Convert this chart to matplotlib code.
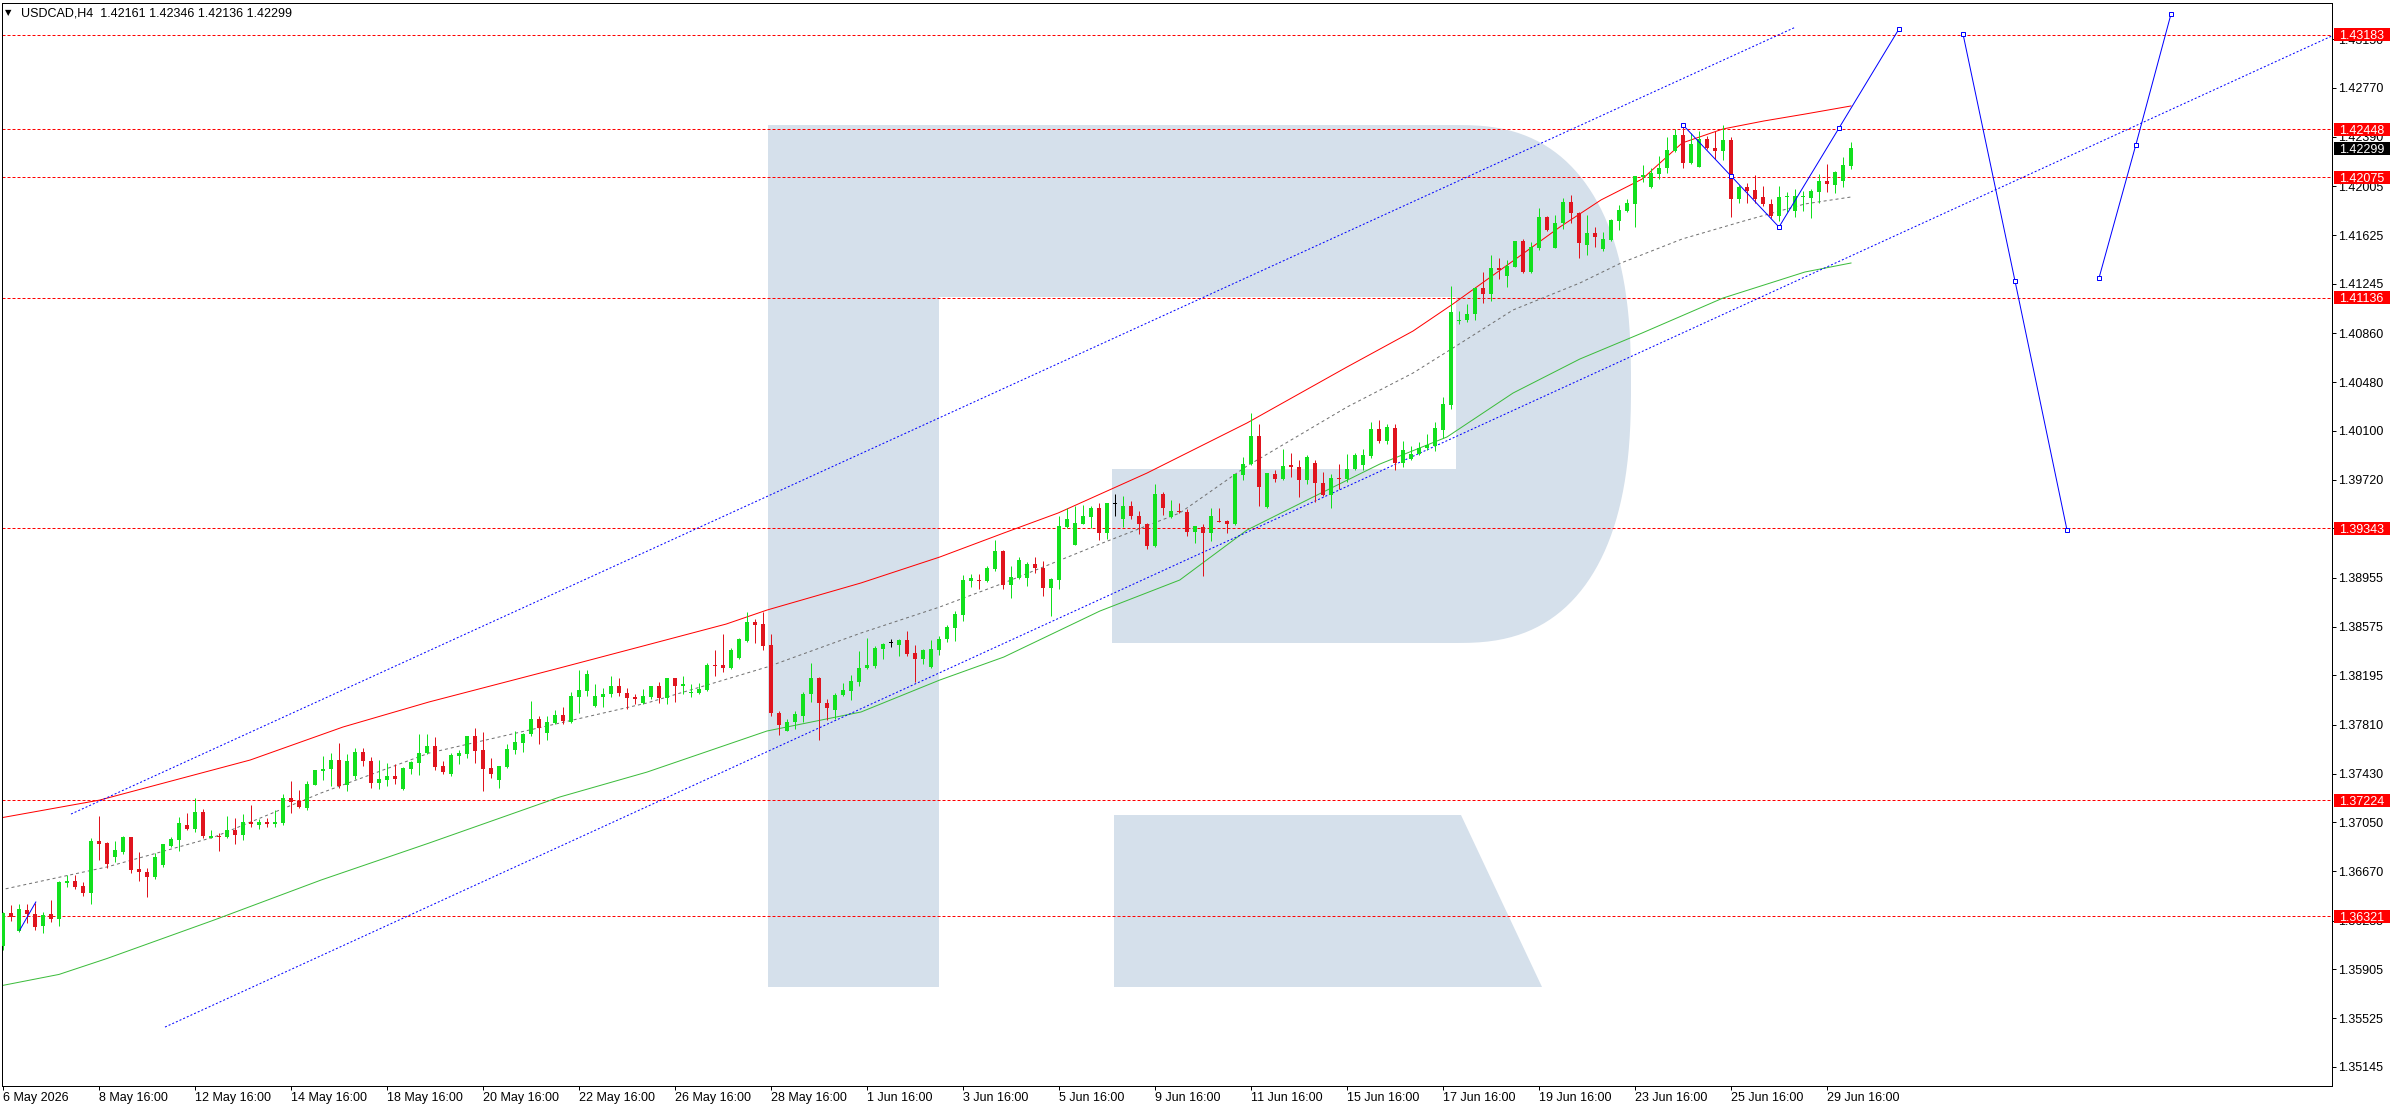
import matplotlib
matplotlib.use("Agg")
import matplotlib.pyplot as plt
import matplotlib.transforms as mtransforms
from matplotlib.patches import Polygon, Rectangle
import numpy as np

plt.rcParams['font.family'] = ['Liberation Sans', 'DejaVu Sans']
plt.rcParams['lines.scale_dashes'] = False

# ---- USDCAD H4 candles (bar 0 = 6 May 16:00) ----
opens = [
    1.36091, 1.36343, 1.36203, 1.36369, 1.36338, 1.36242, 1.36333, 1.36299, 1.36575, 1.36590,
    1.36551, 1.36499, 1.36902, 1.36887, 1.36780, 1.36816, 1.36933, 1.36686, 1.36660, 1.36624,
    1.36715, 1.36863, 1.36910, 1.37032, 1.36998, 1.37131, 1.36928, 1.36941, 1.36933, 1.36988,
    1.36952, 1.37050, 1.37030, 1.37050, 1.37037, 1.37045, 1.37238, 1.37219, 1.37162, 1.37342,
    1.37451, 1.37466, 1.37534, 1.37342, 1.37409, 1.37602, 1.37526, 1.37357, 1.37383, 1.37412,
    1.37310, 1.37466, 1.37513, 1.37589, 1.37643, 1.37487, 1.37425, 1.37568, 1.37583, 1.37721,
    1.37612, 1.37472, 1.37378, 1.37482, 1.37612, 1.37669, 1.37737, 1.37854, 1.37747, 1.37825,
    1.37883, 1.37831, 1.38026, 1.38073, 1.37956, 1.38026, 1.38047, 1.38114, 1.38060, 1.38023,
    1.37982, 1.38023, 1.38109, 1.38018, 1.38172, 1.38112, 1.38057, 1.38057, 1.38081, 1.38270,
    1.38273, 1.38250, 1.38330, 1.38463, 1.38608, 1.38595, 1.38429, 1.37906, 1.37763, 1.37831,
    1.37878, 1.38047, 1.38172, 1.37982, 1.37927, 1.38042, 1.38073, 1.38143, 1.38252, 1.38265,
    1.38400, 1.38445, 1.38432, 1.38468, 1.38369, 1.38320, 1.38260, 1.38393, 1.38476, 1.38562,
    1.38666, 1.38931, 1.38936, 1.38928, 1.39024, 1.39162, 1.38897, 1.38954, 1.38957, 1.39061,
    1.39030, 1.38876, 1.38936, 1.39347, 1.39212, 1.39378, 1.39427, 1.39502, 1.39302, 1.39531,
    1.39411, 1.39518, 1.39440, 1.39375, 1.39201, 1.39604, 1.39427, 1.39479, 1.39471, 1.39310,
    1.39354, 1.39302, 1.39401, 1.39401, 1.39375, 1.39755, 1.39838, 1.40056, 1.39505, 1.39765,
    1.39723, 1.39833, 1.39822, 1.39718, 1.39851, 1.39693, 1.39601, 1.39734, 1.39721, 1.39799,
    1.39830, 1.39903, 1.40111, 1.40020, 1.40119, 1.39848, 1.39879, 1.39916, 1.39968, 1.39981,
    1.40103, 1.40299, 1.40956, 1.40961, 1.41008, 1.41211, 1.41164, 1.41367, 1.41304, 1.41377,
    1.41577, 1.41335, 1.41520, 1.41767, 1.41525, 1.41715, 1.41881, 1.41798, 1.41548, 1.41640,
    1.41515, 1.41587, 1.41737, 1.41815, 1.41870, 1.42076, 1.41999, 1.42104, 1.42143, 1.42279,
    1.42404, 1.42182, 1.42157, 1.42371, 1.42304, 1.42276, 1.42365, 1.41904, 1.41998, 1.41976,
    1.41918, 1.41865, 1.41770, 1.41920, 1.41812, 1.41918, 1.41915, 1.41959, 1.42043, 1.42015,
    1.42048, 1.42161,
]
highs = [
    1.36351, 1.36403, 1.36411, 1.36411, 1.36421, 1.36351, 1.36442, 1.36590, 1.36637, 1.36637,
    1.36582, 1.36928, 1.37097, 1.36897, 1.36902, 1.36941, 1.36938, 1.36816, 1.36697, 1.36811,
    1.36884, 1.36936, 1.37089, 1.37123, 1.37238, 1.37154, 1.36988, 1.36970, 1.37097, 1.37084,
    1.37118, 1.37183, 1.37074, 1.37087, 1.37149, 1.37269, 1.37370, 1.37300, 1.37370, 1.37460,
    1.37565, 1.37589, 1.37669, 1.37581, 1.37628, 1.37628, 1.37560, 1.37534, 1.37511, 1.37505,
    1.37482, 1.37526, 1.37737, 1.37737, 1.37716, 1.37526, 1.37591, 1.37617, 1.37726, 1.37786,
    1.37752, 1.37550, 1.37492, 1.37659, 1.37760, 1.37745, 1.37994, 1.37877, 1.37877, 1.37924,
    1.37948, 1.38065, 1.38234, 1.38234, 1.38125, 1.38099, 1.38192, 1.38172, 1.38099, 1.38047,
    1.38086, 1.38114, 1.38140, 1.38177, 1.38177, 1.38187, 1.38125, 1.38138, 1.38291, 1.38390,
    1.38515, 1.38406, 1.38489, 1.38692, 1.38634, 1.38692, 1.38515, 1.37916, 1.37857, 1.37914,
    1.38068, 1.38289, 1.38182, 1.38008, 1.38057, 1.38133, 1.38195, 1.38385, 1.38484, 1.38426,
    1.38447, 1.38476, 1.38478, 1.38538, 1.38429, 1.38398, 1.38468, 1.38499, 1.38585, 1.38694,
    1.38975, 1.38988, 1.38988, 1.39045, 1.39248, 1.39168, 1.39045, 1.39118, 1.39079, 1.39118,
    1.39087, 1.38957, 1.39435, 1.39495, 1.39516, 1.39521, 1.39518, 1.39536, 1.39539, 1.39609,
    1.39591, 1.39557, 1.39474, 1.39380, 1.39689, 1.39620, 1.39562, 1.39541, 1.39489, 1.39362,
    1.39375, 1.39495, 1.39495, 1.39406, 1.39765, 1.39895, 1.40238, 1.40150, 1.39775, 1.39797,
    1.39955, 1.39929, 1.39869, 1.39908, 1.39869, 1.39778, 1.39765, 1.39838, 1.39916, 1.39931,
    1.39957, 1.40171, 1.40181, 1.40150, 1.40155, 1.40020, 1.39978, 1.40012, 1.40072, 1.40168,
    1.40363, 1.41226, 1.41034, 1.41091, 1.41221, 1.41338, 1.41468, 1.41445, 1.41429, 1.41582,
    1.41595, 1.41572, 1.41837, 1.41772, 1.41777, 1.41910, 1.41936, 1.41806, 1.41779, 1.41687,
    1.41648, 1.41748, 1.41859, 1.41909, 1.42087, 1.42171, 1.42148, 1.42240, 1.42388, 1.42449,
    1.42474, 1.42421, 1.42435, 1.42399, 1.42435, 1.42482, 1.42388, 1.42015, 1.42032, 1.42093,
    1.42009, 1.41904, 1.42009, 1.41959, 1.41982, 1.41968, 1.41987, 1.42098, 1.42176, 1.42121,
    1.42232, 1.42346,
]
lows = [
    1.36057, 1.36281, 1.36195, 1.36265, 1.36213, 1.36187, 1.36273, 1.36247, 1.36546, 1.36533,
    1.36473, 1.36416, 1.36754, 1.36697, 1.36741, 1.36806, 1.36655, 1.36593, 1.36468, 1.36608,
    1.36702, 1.36858, 1.36827, 1.36988, 1.36978, 1.36931, 1.36925, 1.36827, 1.36928, 1.36881,
    1.36913, 1.37012, 1.36998, 1.37014, 1.37012, 1.37030, 1.37123, 1.37162, 1.37147, 1.37338,
    1.37378, 1.37334, 1.37316, 1.37295, 1.37388, 1.37492, 1.37321, 1.37310, 1.37334, 1.37352,
    1.37305, 1.37425, 1.37420, 1.37583, 1.37456, 1.37425, 1.37409, 1.37505, 1.37550, 1.37513,
    1.37295, 1.37394, 1.37318, 1.37477, 1.37586, 1.37599, 1.37726, 1.37661, 1.37693, 1.37820,
    1.37818, 1.37825, 1.37901, 1.38031, 1.37950, 1.37948, 1.38026, 1.38036, 1.37935, 1.37974,
    1.37974, 1.38013, 1.37977, 1.37974, 1.37987, 1.38052, 1.38026, 1.38052, 1.38073, 1.38187,
    1.38218, 1.38245, 1.38325, 1.38458, 1.38447, 1.38390, 1.37875, 1.37727, 1.37761, 1.37776,
    1.37831, 1.37984, 1.37688, 1.37844, 1.37857, 1.38034, 1.38000, 1.38109, 1.38247, 1.38255,
    1.38320, 1.38416, 1.38343, 1.38343, 1.38143, 1.38281, 1.38255, 1.38351, 1.38452, 1.38460,
    1.38616, 1.38884, 1.38871, 1.38923, 1.39009, 1.38866, 1.38796, 1.38949, 1.38889, 1.38993,
    1.38814, 1.38655, 1.38866, 1.39342, 1.39207, 1.39373, 1.39344, 1.39250, 1.39255, 1.39440,
    1.39354, 1.39414, 1.39297, 1.39177, 1.39193, 1.39448, 1.39422, 1.39458, 1.39284, 1.39224,
    1.38972, 1.39245, 1.39388, 1.39302, 1.39370, 1.39718, 1.39830, 1.39518, 1.39500, 1.39705,
    1.39713, 1.39744, 1.39583, 1.39687, 1.39544, 1.39596, 1.39497, 1.39648, 1.39700, 1.39791,
    1.39791, 1.39887, 1.40004, 1.40000, 1.39791, 1.39822, 1.39874, 1.39913, 1.39952, 1.39942,
    1.40046, 1.40267, 1.40930, 1.40948, 1.40966, 1.41096, 1.41112, 1.41286, 1.41221, 1.41372,
    1.41330, 1.41330, 1.41512, 1.41658, 1.41520, 1.41668, 1.41715, 1.41447, 1.41473, 1.41531,
    1.41503, 1.41576, 1.41667, 1.41801, 1.41684, 1.42037, 1.41994, 1.42065, 1.42110, 1.42274,
    1.42148, 1.42176, 1.42152, 1.42293, 1.42218, 1.42210, 1.41768, 1.41876, 1.41876, 1.41876,
    1.41848, 1.41754, 1.41737, 1.41804, 1.41765, 1.41815, 1.41754, 1.41876, 1.41959, 1.41954,
    1.41996, 1.42136,
]
closes = [
    1.36343, 1.36317, 1.36377, 1.36333, 1.36239, 1.36330, 1.36296, 1.36585, 1.36590, 1.36546,
    1.36499, 1.36902, 1.36881, 1.36725, 1.36832, 1.36933, 1.36679, 1.36660, 1.36624, 1.36780,
    1.36879, 1.36920, 1.37045, 1.36998, 1.37131, 1.36941, 1.36941, 1.36936, 1.36988, 1.36952,
    1.37050, 1.37037, 1.37050, 1.37037, 1.37050, 1.37238, 1.37209, 1.37170, 1.37347, 1.37456,
    1.37469, 1.37534, 1.37336, 1.37526, 1.37602, 1.37529, 1.37357, 1.37386, 1.37412, 1.37386,
    1.37472, 1.37518, 1.37594, 1.37643, 1.37482, 1.37440, 1.37576, 1.37594, 1.37721, 1.37607,
    1.37466, 1.37425, 1.37487, 1.37620, 1.37674, 1.37742, 1.37854, 1.37786, 1.37830, 1.37885,
    1.37836, 1.38031, 1.38078, 1.38208, 1.38031, 1.38052, 1.38114, 1.38057, 1.38018, 1.38010,
    1.38031, 1.38109, 1.38018, 1.38172, 1.38112, 1.38125, 1.38062, 1.38086, 1.38273, 1.38265,
    1.38250, 1.38393, 1.38476, 1.38608, 1.38590, 1.38424, 1.37901, 1.37810, 1.37831, 1.37891,
    1.38052, 1.38172, 1.37982, 1.37943, 1.38044, 1.38078, 1.38148, 1.38255, 1.38278, 1.38406,
    1.38442, 1.38445, 1.38473, 1.38361, 1.38320, 1.38390, 1.38403, 1.38481, 1.38569, 1.38673,
    1.38936, 1.38952, 1.38928, 1.39030, 1.39162, 1.38897, 1.38959, 1.39092, 1.39061, 1.39030,
    1.38876, 1.38944, 1.39357, 1.39412, 1.39381, 1.39435, 1.39502, 1.39302, 1.39534, 1.39531,
    1.39518, 1.39435, 1.39375, 1.39201, 1.39604, 1.39497, 1.39479, 1.39466, 1.39310, 1.39359,
    1.39302, 1.39437, 1.39393, 1.39375, 1.39760, 1.39843, 1.40056, 1.39661, 1.39770, 1.39723,
    1.39827, 1.39817, 1.39718, 1.39895, 1.39692, 1.39601, 1.39736, 1.39723, 1.39804, 1.39908,
    1.39908, 1.40111, 1.40020, 1.40129, 1.39848, 1.39947, 1.39921, 1.39968, 1.39986, 1.40119,
    1.40306, 1.41023, 1.40966, 1.41013, 1.41211, 1.41164, 1.41367, 1.41356, 1.41382, 1.41577,
    1.41335, 1.41528, 1.41767, 1.41663, 1.41720, 1.41881, 1.41793, 1.41559, 1.41640, 1.41606,
    1.41592, 1.41743, 1.41820, 1.41876, 1.42082, 1.42090, 1.42110, 1.42148, 1.42287, 1.42404,
    1.42182, 1.42335, 1.42371, 1.42299, 1.42282, 1.42365, 1.41904, 1.41996, 1.41965, 1.41909,
    1.41865, 1.41770, 1.41920, 1.41926, 1.41926, 1.41926, 1.41965, 1.42043, 1.42021, 1.42112,
    1.42171, 1.42299,
]

# time axis labels, one every 12 bars
time_labels = ["6 May 2026", "8 May 16:00", "12 May 16:00", "14 May 16:00", "18 May 16:00",
               "20 May 16:00", "22 May 16:00", "26 May 16:00", "28 May 16:00", "1 Jun 16:00",
               "3 Jun 16:00", "5 Jun 16:00", "9 Jun 16:00", "11 Jun 16:00", "15 Jun 16:00",
               "17 Jun 16:00", "19 Jun 16:00", "23 Jun 16:00", "25 Jun 16:00", "29 Jun 16:00"]
time_label_bars = [0, 12, 24, 36, 48, 60, 72, 84, 96, 108,
                   120, 132, 144, 156, 168, 180, 192, 204, 216, 228]

price_ticks = [1.35145, 1.35525, 1.35905, 1.36285, 1.36670, 1.37050, 1.37430, 1.37810,
               1.38195, 1.38575, 1.38955, 1.39340, 1.39720, 1.40100, 1.40480, 1.40860,
               1.41245, 1.41625, 1.42005, 1.42390, 1.42770, 1.43150]

levels = [1.43183, 1.42448, 1.42075, 1.41136, 1.39343, 1.37224, 1.36321]
last_price = 1.42299

# envelope lines (bar index, price)
upper_x = [-0.4, 12.1, 21.5, 30.9, 42.5, 53.25, 69.6, 80.5, 90.4, 95.5, 107.25, 117.1, 125.1,
           131.9, 143.0, 155.5, 168.0, 176.25, 181.25, 188.75, 194.6, 199.75, 204.9, 209.9,
           215.0, 220.1, 225.25, 231.0]
upper_y = [1.37084, 1.37224, 1.37380, 1.37536, 1.37793, 1.37988, 1.38253, 1.38432, 1.38595,
           1.38704, 1.38915, 1.39117, 1.39304, 1.39460, 1.39771, 1.40161, 1.40597, 1.40877,
           1.41088, 1.41423, 1.41687, 1.41898, 1.42061, 1.42342, 1.42451, 1.42513, 1.42567,
           1.42630]
lower_x = [-0.4, 7.0, 13.0, 26.4, 39.75, 53.25, 69.6, 80.5, 95.5, 107.25, 117.1, 125.1, 137.1,
           147.1, 155.5, 163.75, 172.1, 180.5, 188.75, 197.1, 204.9, 215.0, 225.25, 231.0]
lower_y = [1.35776, 1.35866, 1.35990, 1.36290, 1.36601, 1.36889, 1.37248, 1.37442, 1.37762,
           1.37910, 1.38159, 1.38338, 1.38696, 1.38938, 1.39327, 1.39584, 1.39841, 1.40052,
           1.40394, 1.40659, 1.40862, 1.41134, 1.41337, 1.41407]
mid_x = [-0.4, 13.0, 26.4, 39.75, 53.25, 69.6, 80.5, 95.5, 107.25, 117.1, 125.1, 137.1, 147.1,
         155.5, 168.0, 176.25, 181.25, 188.75, 197.1, 202.25, 209.9, 217.6, 225.25, 231.0]
mid_y = [1.36523, 1.36703, 1.36936, 1.37279, 1.37590, 1.37824, 1.37980, 1.38260, 1.38525,
         1.38728, 1.38915, 1.39218, 1.39460, 1.39826, 1.40285, 1.40550, 1.40745, 1.41041,
         1.41251, 1.41407, 1.41594, 1.41734, 1.41867, 1.41921]

# trend channel (dotted blue)
chan_top_x = [8.5, 224.1]
chan_top_y = [1.37115, 1.43245]
chan_bot_x = [20.25, 291.1]
chan_bot_y = [1.35456, 1.43175]

# forecast path pieces (solid blue)
fc1_x = [210.0, 216.0, 222.0, 229.5, 237.0]
fc1_y = [1.42482, 1.42085, 1.41687, 1.42458, 1.43230]
fc2_x = [245.0, 251.5, 258.0]
fc2_y = [1.43191, 1.41267, 1.39327]
fc3_x = [262.0, 266.6, 271.0]
fc3_y = [1.41290, 1.42326, 1.43346]
old_x = [2.1, 4.1]
old_y = [1.36212, 1.36430]

W, H = 2396, 1110
fig = plt.figure(figsize=(W / 100, H / 100), dpi=100)
fig.patch.set_facecolor('white')
ax = fig.add_axes([2 / W, 24 / H, 2330 / W, 1083 / H])
ax.set_xlim(-0.125, 291.125)
ax.set_ylim(1.34997, 1.43432)
px = 0.72  # one pixel in points

# watermark "R" (pixel coords from the top left of the image)
pix = mtransforms.Affine2D().scale(1, -1).translate(0, H)
wm = '#d5e0eb'
ax.add_patch(Rectangle((768, 125), 171, 862, transform=pix, color=wm, lw=0, zorder=0.5))
t = np.linspace(-np.pi / 2, np.pi / 2, 80)
ct, st = np.cos(t), np.sin(t)
arc_x = 1456 + 175 * np.sign(ct) * np.abs(ct) ** 0.8
arc_y = 384 + 259 * np.sign(st) * np.abs(st) ** 0.8
bowl = [(939, 125)] + list(zip(arc_x, arc_y)) + [(1456, 643), (1112, 643), (1112, 469),
                                                  (1456, 469), (1456, 297), (939, 297)]
ax.add_patch(Polygon(bowl, closed=True, transform=pix, color=wm, lw=0, zorder=0.5))
ax.add_patch(Polygon([(1114, 815), (1461, 815), (1542, 987), (1114, 987)], closed=True,
                     transform=pix, color=wm, lw=0, zorder=0.5))

# horizontal levels
for lv in levels:
    ax.axhline(lv, color='#ff0000', lw=px, dashes=(3 * px, 2 * px), zorder=1)

# envelope + middle line
ax.plot(upper_x, upper_y, color='#ff0000', lw=px, zorder=2)
ax.plot(lower_x, lower_y, color='#3cbc3c', lw=px, zorder=2)
ax.plot(mid_x, mid_y, color='#707070', lw=px, dashes=(3 * px, 3 * px), zorder=2)

# channel
ax.plot(chan_top_x, chan_top_y, color='#0000ff', lw=px, dashes=(2 * px, 2 * px), zorder=2)
ax.plot(chan_bot_x, chan_bot_y, color='#0000ff', lw=px, dashes=(2 * px, 2 * px), zorder=2)

# candles
green, red = '#12e01e', '#e0141e'
n = len(closes)
xs = np.arange(n)
o = np.array(opens); c = np.array(closes)
cols = [green if c[i] > o[i] else (red if c[i] < o[i] else 'black') for i in range(n)]
ax.vlines(xs, lows, highs, colors=cols, lw=px, zorder=3)
one_px = (1.43432 - 1.34997) / 1083
body_h = np.maximum(np.abs(c - o), one_px)
ax.bar(xs, body_h, bottom=np.minimum(o, c), width=0.62, color=cols, lw=0, zorder=3)

# forecast
for fx, fy in [(fc1_x, fc1_y), (fc2_x, fc2_y), (fc3_x, fc3_y)]:
    ax.plot(fx, fy, color='#0000ff', lw=px, marker='s', ms=3.2, mfc='white',
            mec='#0000ff', mew=px, zorder=4)
ax.plot(old_x, old_y, color='#0000ff', lw=px, zorder=4)

# axes / ticks
for sp in ax.spines.values():
    sp.set_linewidth(px)
    sp.set_color('black')
ax.yaxis.tick_right()
ax.set_yticks(price_ticks)
ax.set_yticklabels([f"{v:.5f}" for v in price_ticks])
ax.set_xticks(time_label_bars)
ax.set_xticklabels(time_labels)
for lbl in ax.get_xticklabels():
    lbl.set_horizontalalignment('left')
ax.tick_params(axis='y', direction='out', length=3, width=px, pad=1.5, labelsize=9,
               colors='black')
ax.tick_params(axis='x', direction='out', length=3, width=px, pad=1, labelsize=9,
               colors='black')

# price tags on the right scale
ytr = ax.get_yaxis_transform()
axw = 2330.0
for lv in levels:
    ax.add_patch(Rectangle((1 + 2 / axw, lv - 6.5 * one_px), 56 / axw, 13 * one_px,
                           transform=ytr, color='#ff0000', lw=0, clip_on=False, zorder=6))
    ax.text(1 + 7 / axw, lv, f"{lv:.5f}", transform=ytr, color='white', fontsize=9,
            va='center_baseline', ha='left', clip_on=False, zorder=7)
ax.add_patch(Rectangle((1 + 2 / axw, last_price - 6.5 * one_px), 56 / axw, 13 * one_px,
                       transform=ytr, color='black', lw=0, clip_on=False, zorder=6))
ax.text(1 + 7 / axw, last_price, f"{last_price:.5f}", transform=ytr, color='white',
        fontsize=9, va='center_baseline', ha='left', clip_on=False, zorder=7)

# header
fig.text(5 / W, 1 - 13 / H, "\u25bc", fontsize=6, family='DejaVu Sans', va='center',
         ha='left', color='black')
fig.text(21 / W, 1 - 13 / H,
         f"USDCAD,H4  {opens[-1]:.5f} {highs[-1]:.5f} {lows[-1]:.5f} {closes[-1]:.5f}",
         fontsize=9, va='center', ha='left', color='black')

fig.savefig('out.png', dpi=100, facecolor='white')
